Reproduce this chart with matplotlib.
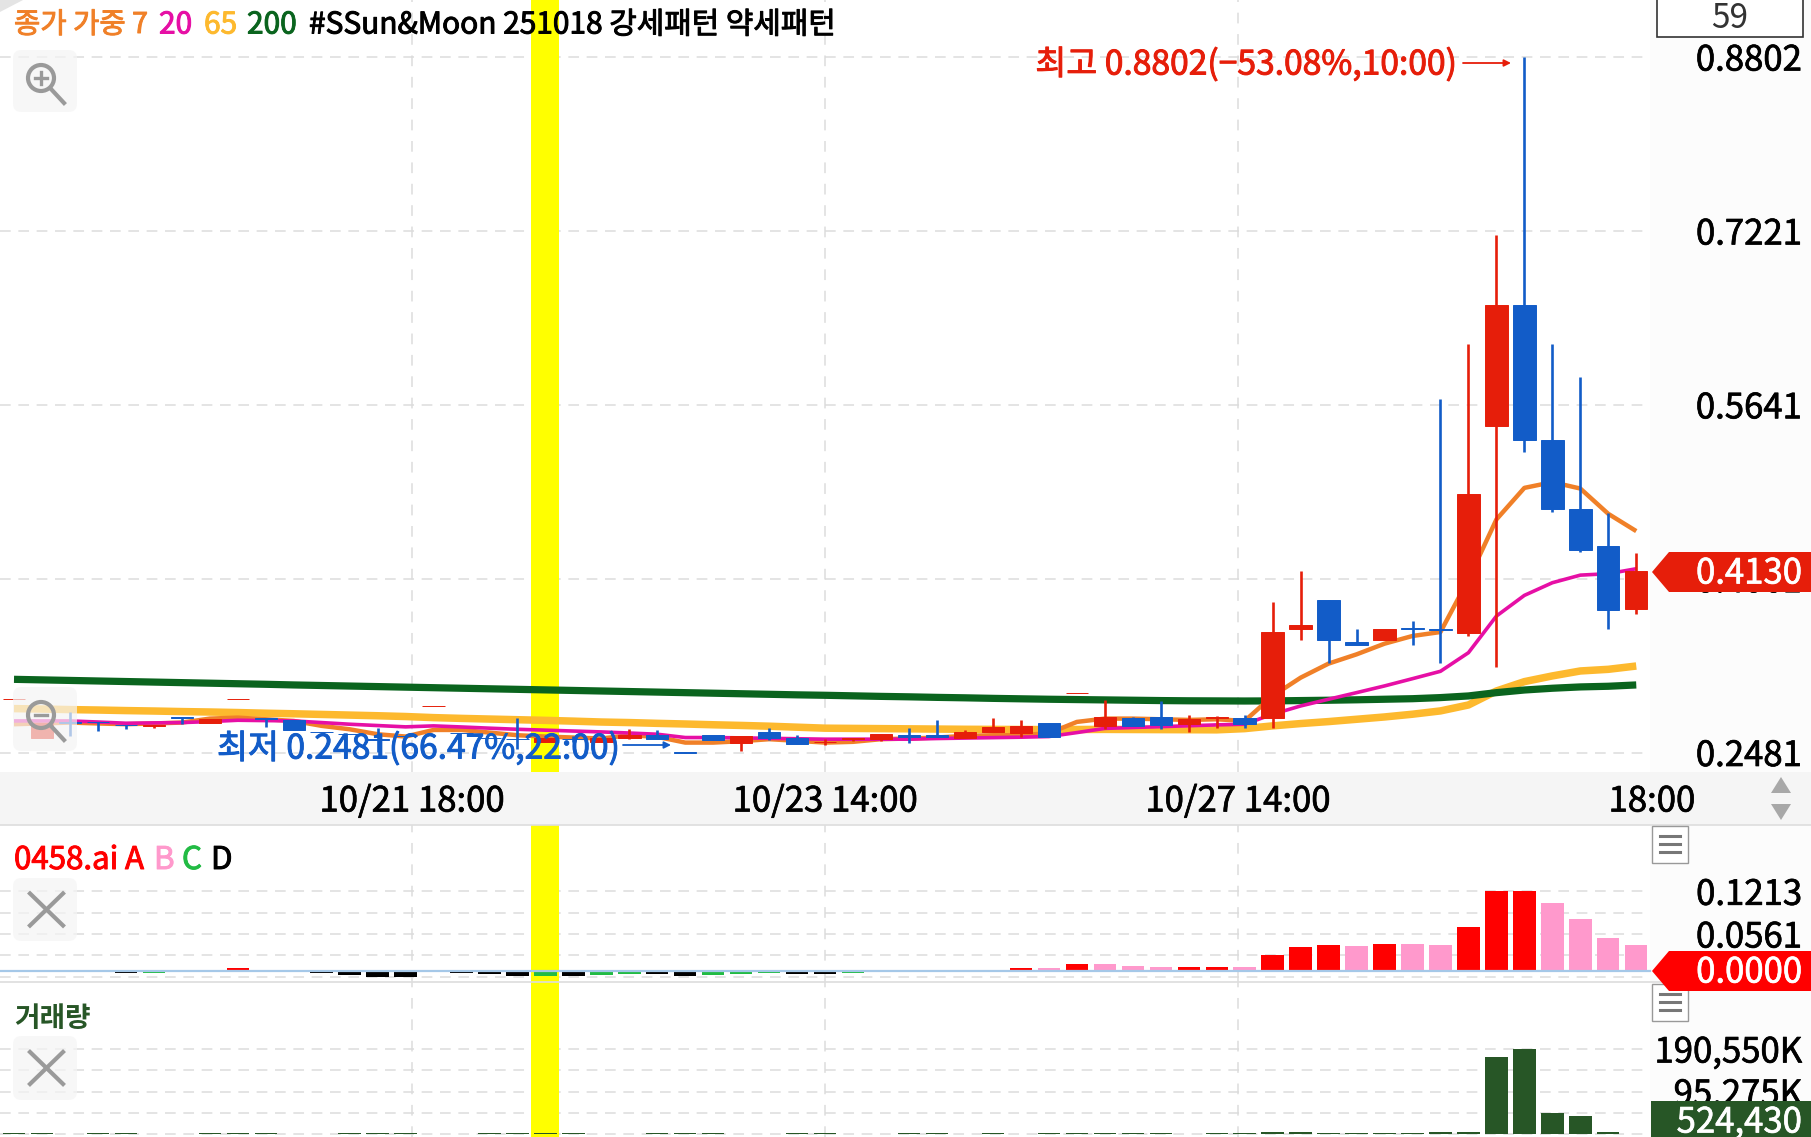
import matplotlib
matplotlib.use('Agg')
import matplotlib.pyplot as plt
import matplotlib.patheffects as pe
from matplotlib.patches import Polygon, Rectangle, FancyBboxPatch, Circle

plt.rcParams['font.family'] = ['Noto Sans CJK KR', 'DejaVu Sans']

# 봉 데이터 (59개)
opens = [.2969, .2617, .2756, .2762, .2735, .2720, .2804, .2747, .2969, .2792,
         .2777, .2671, .2652, .2602, .2632, .2905, .2658, .2615, .2606, .2578,
         .2604, .2572, .2617, .2644, .2483, .2638, .2565, .2665, .2617, .2572,
         .2605, .2608, .2638, .2644, .2617, .2671, .2656, .2753, .3019, .2723,
         .2798, .2804, .2744, .2795, .2792, .2798, .3600, .3863, .3485, .3500,
         .3615, .3603, .3564, .5445, .6547, .5318, .4690, .4360, .3785]
highs = [.2971, .2753, .2850, .2762, .2735, .2732, .2804, .2783, .2971, .2792,
         .2777, .2671, .2652, .2708, .2632, .2907, .2658, .2615, .2798, .2617,
         .2632, .2617, .2699, .2686, .2483, .2638, .2632, .2702, .2644, .2608,
         .2611, .2650, .2702, .2780, .2683, .2798, .2780, .2753, .3022, .2956,
         .2807, .2947, .2820, .2813, .2819, .3848, .4130, .3863, .3600, .3600,
         .3679, .5697, .6196, .7183, .8802, .6196, .5890, .4659, .4296]
lows = [.2969, .2617, .2632, .2677, .2699, .2708, .2738, .2747, .2969, .2714,
        .2683, .2667, .2648, .2490, .2628, .2905, .2654, .2611, .2511, .2578,
        .2572, .2572, .2602, .2602, .2481, .2593, .2496, .2593, .2559, .2553,
        .2581, .2581, .2568, .2623, .2617, .2671, .2626, .2626, .3019, .2699,
        .2720, .2699, .2668, .2702, .2708, .2701, .3503, .3298, .3458, .3500,
        .3458, .3298, .3540, .3258, .5209, .4668, .4302, .3600, .3742]
closes = [.2971, .2753, .2750, .2757, .2732, .2732, .2799, .2783, .2971, .2787,
          .2683, .2667, .2648, .2598, .2628, .2907, .2654, .2611, .2600, .2617,
          .2600, .2617, .2638, .2602, .2481, .2593, .2632, .2617, .2559, .2578,
          .2611, .2650, .2623, .2623, .2668, .2714, .2723, .2626, .3022, .2804,
          .2720, .2732, .2783, .2807, .2744, .3576, .3637, .3500, .3458, .3600,
          .3603, .3598, .4832, .6547, .5321, .4696, .4323, .3779, .4130]

# 이동평균
ma7 = [.2738, .2745, .2753, .2745, .2738, .2745, .2753, .2789, .2798, .2783,
       .2768, .2723, .2692, .2647, .2626, .2686, .2686, .2662, .2638, .2626,
       .2617, .2608, .2638, .2623, .2571, .2571, .2584, .2602, .2587, .2571,
       .2578, .2602, .2608, .2617, .2632, .2638, .2638, .2656, .2759, .2789,
       .2789, .2783, .2777, .2783, .2768, .2995, .3161, .3289, .3373, .3470,
       .3540, .3576, .4054, .4599, .4886, .4938, .4880, .4650, .4493]
ma20 = [.2768, .2768, .2768, .2758, .2747, .2750, .2753, .2762, .2774, .2771,
        .2768, .2753, .2738, .2726, .2714, .2723, .2713, .2702, .2692, .2684,
        .2676, .2668, .2658, .2647, .2617, .2617, .2614, .2610, .2606, .2602,
        .2602, .2602, .2602, .2608, .2612, .2616, .2620, .2626, .2662, .2700,
        .2708, .2716, .2724, .2732, .2738, .2829, .2904, .2965, .3025, .3086,
        .3152, .3219, .3388, .3721, .3909, .4024, .4093, .4106, .4151]
ma65 = [.2880, .2876, .2871, .2867, .2862, .2858, .2853, .2849, .2844, .2838,
        .2833, .2827, .2821, .2815, .2808, .2798, .2791, .2785, .2779, .2773,
        .2766, .2758, .2753, .2746, .2740, .2733, .2727, .2720, .2711, .2702,
        .2700, .2698, .2696, .2694, .2692, .2691, .2690, .2689, .2690, .2691,
        .2690, .2689, .2688, .2687, .2698, .2723, .2744, .2762, .2783, .2804,
        .2829, .2859, .2913, .3040, .3125, .3177, .3222, .3237, .3267]
ma200 = [.3146, .3141, .3136, .3131, .3126, .3121, .3116, .3111, .3106, .3101,
         .3095, .3090, .3085, .3080, .3075, .3070, .3065, .3060, .3055, .3050,
         .3045, .3040, .3035, .3030, .3025, .3020, .3015, .3010, .3005, .3001,
         .2996, .2991, .2987, .2982, .2978, .2973, .2969, .2965, .2962, .2959,
         .2956, .2953, .2951, .2950, .2949, .2950, .2953, .2956, .2960, .2965,
         .2970, .2980, .2995, .3025, .3049, .3065, .3077, .3083, .3095]

# 0458.ai 지표 (값, 색상 코드)
ind_vals = [.0006, .0006, .0006, -.0026, -.0040, -.0030, .0006, .0006, .0040, .0008,
            .0006, -.0036, -.0066, -.0092, -.0092, .0006, -.0030, -.0056, -.0077, -.0077,
            -.0082, -.0066, -.0056, -.0056, -.0082, -.0072, -.0046, -.0036, -.0046, -.0046,
            -.0036, .0006, .0006, .0006, .0006, .0006, .0036, .0036, .0102, .0097,
            .0072, .0056, .0056, .0056, .0050, .0236, .0358, .0389, .0384, .0404,
            .0404, .0389, .0660, .1213, .1213, .1034, .0794, .0502, .0389]
ind_kinds = list('EEEDDCEEAEEDDDDEDDDC') + list('DCCDDCCCDDCEEEEEABAB') + list('BBAABAAABABBAAABBBB')
ind_colors = {'A': '#ff0000', 'B': '#ff99cc', 'C': '#22bb44', 'D': '#000000', 'E': '#77777f'}

volumes = [1200, 1300, 1100, 1400, 1200, 1000, 1100, 1300, 1500, 1200,
           1100, 1000, 1200, 1500, 1300, 1100, 1000, 1200, 1300, 1500,
           1200, 1100, 1000, 1300, 1200, 1400, 1100, 1000, 1200, 1300,
           1100, 1000, 1200, 1400, 1100, 1300, 1000, 1200, 1500, 1400,
           1200, 1300, 1100, 1500, 1400, 3700, 4500, 2200, 1800, 1500,
           1500, 4500, 4500, 173300, 190550, 46400, 39700, 3700, 524]

price_ticks = [.8802, .7221, .5641, .4061, .2481]
price_labels = ['0.8802', '0.7221', '0.5641', '0.4061', '0.2481']
ind_ticks = [.1213, .0887, .0561, .0235, -.0091]
ind_labels = ['0.1213', '', '0.0561', '', '']
vol_ticks = [190550, 142912, 95275, 47637, 0]
vol_labels = ['190,550K', '', '95,275K', '', '']
date_pos = [14.23, 29.0, 43.76, 58.56]
date_labels = ['10/21 18:00', '10/23 14:00', '10/27 14:00', '18:00']
highlight = (18.48, 19.49)

RED = '#e61e0a'
BLUE = '#125cc8'
GRID = '#dcdcdc'
W, H = 1811, 1137
STEP = 27.97
X0 = 14
xlim = (-X0 / STEP, (W - X0) / STEP)
grid_end = (1650 - X0) / STEP
xs = list(range(len(closes)))


def thick(color, w=.7):
    return [pe.Stroke(linewidth=w, foreground=color), pe.Normal()]


def panel(top, bottom, ylim):
    ax = fig.add_axes([0, 1 - bottom / H, 1, (bottom - top) / H])
    ax.set_xlim(xlim)
    ax.set_ylim(ylim)
    for s in ax.spines.values():
        s.set_visible(False)
    ax.axvspan(grid_end, xlim[1], color='#fcfcfc', lw=0, zorder=0)
    ax.axvspan(*highlight, color='#ffff00', lw=0, zorder=0.5)
    ax.tick_params(axis='both', length=0)
    ax.yaxis.tick_right()
    for x in date_pos[:-1]:
        ax.axvline(x, color=GRID, lw=1.1, dashes=(7, 7), zorder=0.3)
    return ax


def set_labels(ax, ticks, labels):
    ax.set_yticks(ticks)
    ax.set_yticklabels(labels, fontsize=25, ha='right', color='black', path_effects=thick('black', .5))
    ax.tick_params(axis='y', pad=-6.5)
    ax.hlines(ticks, xlim[0], grid_end, color=GRID, lw=1.1, linestyles=(0, (7, 5)), zorder=0.4)
    ax.set_xticks([])


fig = plt.figure(figsize=(W / 100, H / 100), dpi=100, facecolor='#f5f5f5')

# 가격 패널
per_px = (.8802 - .2481) / (752.5 - 57)
ax = panel(0, 772, (.8802 - (772 - 57) * per_px, .8802 + 57 * per_px))
set_labels(ax, price_ticks, price_labels)
ax.set_xticks(date_pos)
ax.set_xticklabels(date_labels, fontsize=25, color='black', path_effects=thick('black', .5))
ax.tick_params(axis='x', pad=9)
ax.plot(xs, ma65, color='#fdb92e', lw=5.4, zorder=2, solid_capstyle='butt')
ax.plot(xs, ma200, color='#0a641e', lw=5.2, zorder=2.1, solid_capstyle='butt')
ax.plot(xs, ma7, color='#f08028', lw=3.2, zorder=2.2, solid_capstyle='butt')
ax.plot(xs, ma20, color='#e60fa5', lw=2.6, zorder=2.3, solid_capstyle='butt')
for i in xs:
    c = RED if closes[i] >= opens[i] else BLUE
    ax.vlines(i, lows[i], highs[i], color=c, lw=1.9, zorder=3)
    ax.bar(i, abs(closes[i] - opens[i]), bottom=min(opens[i], closes[i]), width=.8,
           color=c, edgecolor=c, lw=.7, zorder=3.1)

# 지표 패널
per_px = .1213 / (970.7 - 891.3)
ax2 = panel(825, 982, (-(982 - 970.7) * per_px, (970.7 - 825) * per_px))
set_labels(ax2, ind_ticks, ind_labels)
ax2.bar(xs, ind_vals, width=.8, color=[ind_colors[k] for k in ind_kinds], zorder=2)
ax2.axhline(0, color='#a5c8e8', lw=1.6, xmax=1650 / W, zorder=2.5)

# 거래량 패널
per_px = 190550 / (1134 - 1049)
ax3 = panel(982, 1137, (-(1137 - 1134) * per_px, (1134 - 982) * per_px))
set_labels(ax3, vol_ticks, vol_labels)
ax3.bar(xs, volumes, width=.8, color='#275626', zorder=2)

# 화면 장식, 글자
ui = fig.add_axes([0, 0, 1, 1], facecolor='none')
ui.set_xlim(0, W)
ui.set_ylim(H, 0)
ui.axis('off')

ui.add_patch(Polygon([(0, 0), (23, 0), (0, 12)], color='#e4e4e4', lw=0))
title_parts = [(14, '종가 가중 7', '#f08028', 20.6), (159, '20', '#e60fa5', 21.5), (204, '65', '#fdb92e', 21.5),
               (247, '200', '#0a641e', 21.5), (309, '#SSun&Moon 251018 강세패턴 약세패턴', '#000000', 21.5)]
for x, s, c, fs in title_parts:
    ui.text(x, 25, s, color=c, fontsize=fs, va='center', ha='left', path_effects=thick(c))

ui.text(1456, 65, '최고 0.8802(\u221253.08%,10:00)', color=RED, fontsize=24.2, ha='right', va='center',
        path_effects=thick(RED))
ui.annotate('', xy=(1511, 63), xytext=(1463, 63),
            arrowprops=dict(arrowstyle='-|>', color=RED, lw=1.3, shrinkA=0, shrinkB=0))
ui.text(217, 749, '최저 0.2481(66.47%,22:00)', color=BLUE, fontsize=24.2, ha='left', va='center',
        path_effects=thick(BLUE), zorder=3)
ui.annotate('', xy=(671, 745), xytext=(623, 745),
            arrowprops=dict(arrowstyle='-|>', color=BLUE, lw=1.3, shrinkA=0, shrinkB=0))


def icon_bg(y0, y1):
    ui.add_patch(FancyBboxPatch((21, y0 + 8), 48, y1 - y0 - 16, boxstyle='round,pad=8',
                                fc=(.96, .96, .96, .7), ec='none', zorder=4))


def magnifier(cy, plus):
    cx = 41
    ui.add_patch(Circle((cx, cy), 13, fc='none', ec='#9a9a9a', lw=3, zorder=5))
    ui.plot([cx + 10, cx + 23], [cy + 11, cy + 25], color='#9a9a9a', lw=3, zorder=5)
    ui.plot([cx - 6, cx + 6], [cy, cy], color='#9a9a9a', lw=2.4, zorder=5)
    if plus:
        ui.plot([cx, cx], [cy - 6, cy + 6], color='#9a9a9a', lw=2.4, zorder=5)


def close_icon(y0, y1):
    icon_bg(y0, y1)
    cy = (y0 + y1) / 2
    ui.plot([30, 63], [cy - 16, cy + 16], color='#9a9a9a', lw=3, zorder=5)
    ui.plot([63, 30], [cy - 16, cy + 16], color='#9a9a9a', lw=3, zorder=5)


def menu_box(y0):
    ui.add_patch(Rectangle((1652, y0), 36, 37, fc='white', ec='#999999', lw=1, zorder=6))
    for dy in (10, 18, 26):
        ui.plot([1660, 1680], [y0 + dy, y0 + dy], color='#777777', lw=2.2, zorder=7)


icon_bg(50, 112)
magnifier(78, True)
icon_bg(687, 751)
magnifier(715, False)
close_icon(878, 941)
close_icon(1036, 1100)
menu_box(826)
menu_box(984)

ui.add_patch(Rectangle((1657, -2), 146, 39, fc='white', ec='#333333', lw=1.2, zorder=6))
ui.text(1730, 19, '59', color='#333333', fontsize=24, ha='center', va='center', zorder=7)

ui.plot([0, W], [825, 825], color='#dddddd', lw=1.2, zorder=1)
ui.plot([0, W], [982, 982], color='#dddddd', lw=1.2, zorder=1)
ui.add_patch(Polygon([(1781, 777), (1771, 793), (1791, 793)], color='#a8a8a8', lw=0))
ui.add_patch(Polygon([(1781, 820), (1771, 804), (1791, 804)], color='#a8a8a8', lw=0))

ind_legend = [(14, '0458.ai', '#ff0000'), (125, 'A', '#ff0000'), (154, 'B', '#ff99cc'),
              (182, 'C', '#22bb44'), (211, 'D', '#000000')]
for x, s, c in ind_legend:
    ui.text(x, 860, s, color=c, fontsize=22.5, va='center', ha='left', path_effects=thick(c))
ui.text(14, 1019, '거래량', color='#275626', fontsize=20, va='center', ha='left', fontweight='bold')

ui.add_patch(Polygon([(1652, 572), (1669, 552), (1811, 552), (1811, 592), (1669, 592)], color=RED, lw=0, zorder=8))
ui.text(1802, 574, '0.4130', color='white', fontsize=25, ha='right', va='center', zorder=9,
        path_effects=thick('white', .5))
ui.add_patch(Polygon([(1652, 971), (1669, 951), (1811, 951), (1811, 991), (1669, 991)], color='#ff0000', lw=0, zorder=8))
ui.text(1802, 973, '0.0000', color='white', fontsize=25, ha='right', va='center', zorder=9,
        path_effects=thick('white', .5))
ui.add_patch(Rectangle((1651, 1101), 160, 36, color='#275626', lw=0, zorder=8))
ui.text(1802, 1123, '524,430', color='white', fontsize=25, ha='right', va='center', zorder=9,
        path_effects=thick('white', .5))

plt.savefig('out.png', dpi=100, facecolor=fig.get_facecolor())
